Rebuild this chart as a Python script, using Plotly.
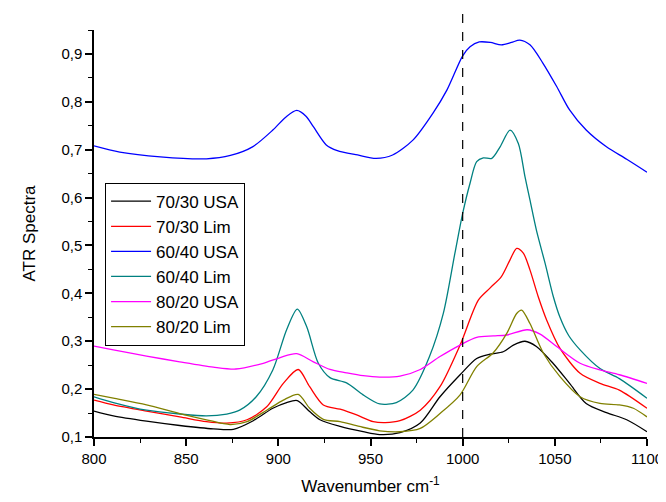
import plotly.graph_objects as go

# ---- data ----
black_x = [800, 810.5, 828.5, 846.5, 864.7, 875.6, 886.4, 897, 904.5, 910.3, 917, 922.6, 933.5, 946, 955, 966, 977, 987.7, 998.6, 1007.6, 1014.8, 1022, 1027.5, 1033.8, 1040, 1049, 1058, 1067, 1078, 1089, 1100]
black_y = [0.154, 0.144, 0.133, 0.124, 0.117, 0.116, 0.134, 0.160, 0.172, 0.176, 0.153, 0.136, 0.122, 0.111, 0.105, 0.109, 0.129, 0.184, 0.230, 0.264, 0.273, 0.278, 0.292, 0.300, 0.289, 0.254, 0.212, 0.170, 0.151, 0.136, 0.111]

red_x = [800, 810.5, 828.5, 846.5, 861, 872, 883, 893.7, 902.7, 910.8, 917, 924.4, 933.5, 942.5, 951.5, 958, 966, 977, 987.7, 998.6, 1008.5, 1014.8, 1021, 1025.7, 1029.3, 1032.9, 1036.5, 1041, 1045.6, 1052.8, 1063.7, 1074.5, 1085, 1100]
red_y = [0.177, 0.167, 0.154, 0.142, 0.132, 0.129, 0.136, 0.163, 0.212, 0.241, 0.205, 0.167, 0.158, 0.146, 0.132, 0.130, 0.134, 0.156, 0.205, 0.292, 0.386, 0.411, 0.435, 0.470, 0.494, 0.484, 0.449, 0.393, 0.344, 0.285, 0.233, 0.212, 0.198, 0.160]

blue_x = [800, 814, 836, 861, 874, 886, 897, 904, 910, 915, 919, 926, 932, 943, 953, 962, 973, 984, 991.5, 1000, 1004, 1009, 1015, 1021, 1026.5, 1031, 1036.5, 1043.5, 1051, 1058, 1067, 1078, 1089, 1100]
blue_y = [0.708, 0.695, 0.685, 0.681, 0.688, 0.706, 0.741, 0.768, 0.782, 0.770, 0.748, 0.710, 0.698, 0.689, 0.682, 0.689, 0.720, 0.777, 0.825, 0.896, 0.915, 0.925, 0.924, 0.919, 0.924, 0.929, 0.919, 0.881, 0.832, 0.783, 0.741, 0.706, 0.680, 0.653]

teal_x = [800, 810.5, 828.5, 846.5, 861, 872, 879, 888, 897, 904.5, 910.3, 915.4, 921.7, 928, 937, 946, 955, 964, 973, 982, 989.5, 995.8, 1000, 1004, 1007.6, 1011.2, 1015.8, 1020.3, 1025.7, 1030.2, 1033.8, 1036.5, 1040, 1044.7, 1049.2, 1052.8, 1057.5, 1063.7, 1074.5, 1085, 1100]
teal_y = [0.184, 0.172, 0.156, 0.148, 0.144, 0.148, 0.156, 0.184, 0.240, 0.324, 0.367, 0.330, 0.254, 0.224, 0.213, 0.188, 0.169, 0.172, 0.198, 0.268, 0.358, 0.484, 0.567, 0.630, 0.675, 0.683, 0.682, 0.706, 0.741, 0.713, 0.644, 0.595, 0.532, 0.463, 0.393, 0.350, 0.312, 0.282, 0.243, 0.222, 0.181]

magenta_x = [800, 810.5, 828.5, 846.5, 864.7, 877, 891.8, 901, 910, 919, 928, 937, 946, 955, 966, 977, 987.7, 998.6, 1007.6, 1016.6, 1024, 1035, 1042, 1051, 1063.7, 1074.5, 1085, 1100]
magenta_y = [0.290, 0.282, 0.269, 0.257, 0.246, 0.242, 0.254, 0.266, 0.274, 0.257, 0.241, 0.234, 0.228, 0.225, 0.227, 0.241, 0.268, 0.292, 0.308, 0.311, 0.313, 0.324, 0.315, 0.289, 0.254, 0.240, 0.230, 0.212]

olive_x = [800, 810.5, 828.5, 846.5, 861, 873.8, 883, 893.7, 902.7, 910.8, 917, 924.4, 933.5, 944, 955, 966, 977, 987.7, 998.6, 1007.6, 1016.6, 1024, 1029.3, 1032, 1036.5, 1043.8, 1052.8, 1063.7, 1074.5, 1085, 1092.6, 1100]
olive_y = [0.189, 0.181, 0.167, 0.149, 0.136, 0.126, 0.132, 0.156, 0.177, 0.189, 0.160, 0.137, 0.132, 0.122, 0.113, 0.111, 0.118, 0.149, 0.188, 0.247, 0.276, 0.317, 0.358, 0.365, 0.337, 0.275, 0.226, 0.184, 0.170, 0.167, 0.160, 0.142]

series_names = ["70/30 USA", "70/30 Lim", "60/40 USA", "60/40 Lim", "80/20 USA", "80/20 Lim"]
series_colors = ["#000000", "#ff0000", "#0000ff", "#008080", "#ff00ff", "#808000"]
series_x = [black_x, red_x, blue_x, teal_x, magenta_x, olive_x]
series_y = [black_y, red_y, blue_y, teal_y, magenta_y, olive_y]

x_tickvals = [800, 850, 900, 950, 1000, 1050, 1100]
x_ticktext = ["800", "850", "900", "950", "1000", "1050", "1100"]
y_tickvals = [0.1, 0.2, 0.3, 0.4, 0.5, 0.6, 0.7, 0.8, 0.9]
y_ticktext = ["0,1", "0,2", "0,3", "0,4", "0,5", "0,6", "0,7", "0,8", "0,9"]
marker_x = 1000

FONT = "Arial, Liberation Sans, sans-serif"

fig = go.Figure()
for name, color, xs, ys in zip(series_names, series_colors, series_x, series_y):
    fig.add_trace(go.Scatter(
        x=xs, y=ys, mode="lines", name=name,
        line=dict(color=color, width=1.3, shape="spline", smoothing=0.8),
    ))

fig.add_shape(type="line", xref="x", yref="paper",
              x0=marker_x, x1=marker_x, y0=0, y1=1.052,
              line=dict(color="black", width=1.2, dash="dash"))

# page body has an 8px margin, so the figure is sized/offset to compensate
fig.update_layout(
    width=658, height=494,
    margin=dict(l=86, r=19, t=22, b=65),
    paper_bgcolor="white", plot_bgcolor="white",
    font=dict(family=FONT, size=14, color="black"),
    showlegend=True,
    legend=dict(
        x=0.02, y=0.625, xanchor="left", yanchor="top",
        bgcolor="white", bordercolor="black", borderwidth=1,
        font=dict(family=FONT, size=17, color="black"),
        itemwidth=40, tracegroupgap=0,
    ),
    xaxis=dict(
        range=[800, 1100], showgrid=False, zeroline=False, automargin=False,
        showline=True, linecolor="black", linewidth=1.5, mirror=False,
        ticks="outside", ticklen=7, tickwidth=1.5, tickcolor="black",
        tickvals=x_tickvals, ticktext=x_ticktext,
        tickfont=dict(family=FONT, size=15),
        minor=dict(dtick=25, tick0=800, ticks="outside", ticklen=4, tickwidth=1.2, tickcolor="black", showgrid=False),
        title=dict(text="Wavenumber cm<sup>-1</sup>", font=dict(family=FONT, size=17), standoff=14),
    ),
    yaxis=dict(
        range=[0.1, 0.95], showgrid=False, zeroline=False, automargin=False,
        showline=True, linecolor="black", linewidth=1.5, mirror=False,
        ticks="outside", ticklen=7, tickwidth=1.5, tickcolor="black",
        tickvals=y_tickvals, ticktext=y_ticktext,
        tickfont=dict(family=FONT, size=15),
        minor=dict(dtick=0.05, tick0=0.1, ticks="outside", ticklen=4, tickwidth=1.2, tickcolor="black", showgrid=False),
        title=dict(text="ATR Spectra", font=dict(family=FONT, size=17), standoff=21),
    ),
)

fig.write_html("out.html")
